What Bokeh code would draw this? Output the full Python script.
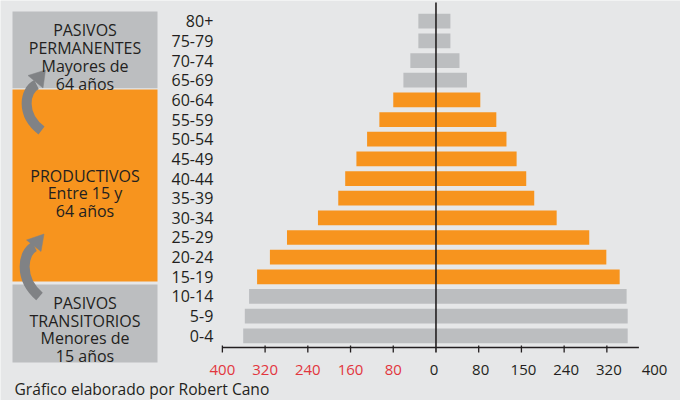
from bokeh.plotting import figure
from bokeh.models import Range1d
from bokeh.core.properties import value
from bokeh.embed import file_html
from bokeh.resources import INLINE

# ---- data ----
ages = ["0-4", "5-9", "10-14", "15-19", "20-24", "25-29", "30-34", "35-39",
        "40-44", "45-49", "50-54", "55-59", "60-64", "65-69", "70-74", "75-79", "80+"]
left_side = [361, 358, 350, 335, 311, 279, 221, 183, 170, 149, 129, 106, 80, 61, 48, 33, 33]
right_side = [359, 359, 357, 344, 319, 287, 226, 184, 169, 151, 132, 113, 83, 58, 44, 27, 27]
groups = ["T", "T", "T", "P", "P", "P", "P", "P", "P", "P", "P", "P", "P", "M", "M", "M", "M"]

left_ticks = [-400, -320, -240, -160, -80]
left_tick_labels = ["400", "320", "240", "160", "80"]
right_ticks = [80, 160, 240, 320]
right_tick_labels = ["80", "150", "240", "320"]
extra_label_value = 400
extra_label = "400"

panel_top = ["PASIVOS", "PERMANENTES", "Mayores de", "64 años"]
panel_mid = ["PRODUCTIVOS", "Entre 15 y", "64 años"]
panel_bot = ["PASIVOS", "TRANSITORIOS", "Menores de", "15 años"]
credit = "Gráfico elaborado por Robert Cano"

# ---- styles ----
BG = "#E6E7E8"
ORANGE = "#F7941E"
GRAY = "#BCBEC0"
ARROW = "#808285"
DARK = "#231F20"
RED = "#E2363E"
FONT = value("Open Sans")
group_color = {"T": GRAY, "P": ORANGE, "M": GRAY}
colors = [group_color[g] for g in groups]
idx = list(range(len(ages)))

p = figure(width=680, height=400,
           x_range=Range1d(-815.5, 457.9), y_range=Range1d(-3.291, 17.055),
           output_backend="svg", toolbar_location=None, min_border=0,
           x_axis_location=None, y_axis_location=None)
p.extra_x_ranges = {"px": Range1d(0, 680)}
p.extra_y_ranges = {"py": Range1d(400, 0)}
p.grid.visible = False
p.outline_line_color = None
p.background_fill_color = BG
p.border_fill_color = BG

# ---- left panel ----
p.quad(left=[12, 12, 12], right=[157, 157, 157], top=[11, 89, 284], bottom=[87.7, 281, 362],
       fill_color=[GRAY, ORANGE, GRAY], line_color=None,
       x_range_name="px", y_range_name="py")

# arrows
p.bezier(x0=[36, 34], y0=[84, 246], x1=[41, 39], y1=[130, 296],
         cx0=[24, 22], cy0=[90, 252], cx1=[20, 18], cy1=[114, 278],
         line_color=ARROW, line_width=10, line_cap="butt",
         x_range_name="px", y_range_name="py")
p.patches(xs=[[45, 27.5, 42.5], [43.5, 26, 40.5]],
          ys=[[69.5, 75, 87.5], [233.5, 239.5, 251]],
          fill_color=ARROW, line_color=ARROW, line_width=0.5,
          x_range_name="px", y_range_name="py")

def panel_text(lines, baselines):
    p.text(x=[84.5] * len(lines), y=baselines, text=lines,
           text_font=FONT, text_font_size="16px", text_color=DARK,
           text_align="center", text_baseline="alphabetic",
           x_range_name="px", y_range_name="py")

panel_text(panel_top, [29.5, 47.3, 65.3, 83.3])
panel_text(panel_mid, [175, 192.5, 210])
panel_text(panel_bot, [302.7, 320, 337.2, 355])

# ---- bars ----
p.hbar(y=idx, left=[-v for v in left_side], right=0, height=0.75,
       fill_color=colors, line_color=None)
p.hbar(y=idx, left=0, right=right_side, height=0.75,
       fill_color=colors, line_color=None)

# age labels
p.text(x=[-417] * len(ages), y=idx, text=ages, text_font=FONT,
       text_font_size="16px", text_color=DARK, text_align="right",
       text_baseline="middle")

# zero line
p.segment(x0=[0], y0=[2], x1=[0], y1=[352], line_color=DARK, line_width=1.6,
          y_range_name="py")

# x axis
p.segment(x0=[left_ticks[0]], y0=[347], x1=[380], y1=[347], line_color=DARK,
          line_width=1.5, y_range_name="py")
all_ticks = left_ticks + right_ticks
p.segment(x0=all_ticks, y0=[345] * len(all_ticks), x1=all_ticks,
          y1=[352] * len(all_ticks), line_color=DARK, line_width=1.3,
          y_range_name="py")
p.text(x=left_ticks, y=[369] * len(left_ticks), text=left_tick_labels,
       text_font=FONT, text_font_size="15px", text_color=RED,
       text_align="center", text_baseline="middle", y_range_name="py")
p.text(x=[0], y=[369], text=["0"], x_offset=-2, text_font=FONT,
       text_font_size="15px", text_color=DARK, text_align="center",
       text_baseline="middle", y_range_name="py")
p.text(x=right_ticks, y=[369] * len(right_ticks), text=right_tick_labels,
       x_offset=2, text_font=FONT, text_font_size="15px", text_color=DARK,
       text_align="center", text_baseline="middle", y_range_name="py")
p.text(x=[extra_label_value], y=[369], text=[extra_label], x_offset=5,
       text_font=FONT, text_font_size="15px", text_color=DARK,
       text_align="center", text_baseline="middle", y_range_name="py")

# credit
p.text(x=[14], y=[399], text=[credit], text_font=FONT, text_font_size="15.6px",
       text_color=DARK, text_align="left", text_baseline="bottom",
       x_range_name="px", y_range_name="py")

open("out.html", "w").write(file_html(p, INLINE))
